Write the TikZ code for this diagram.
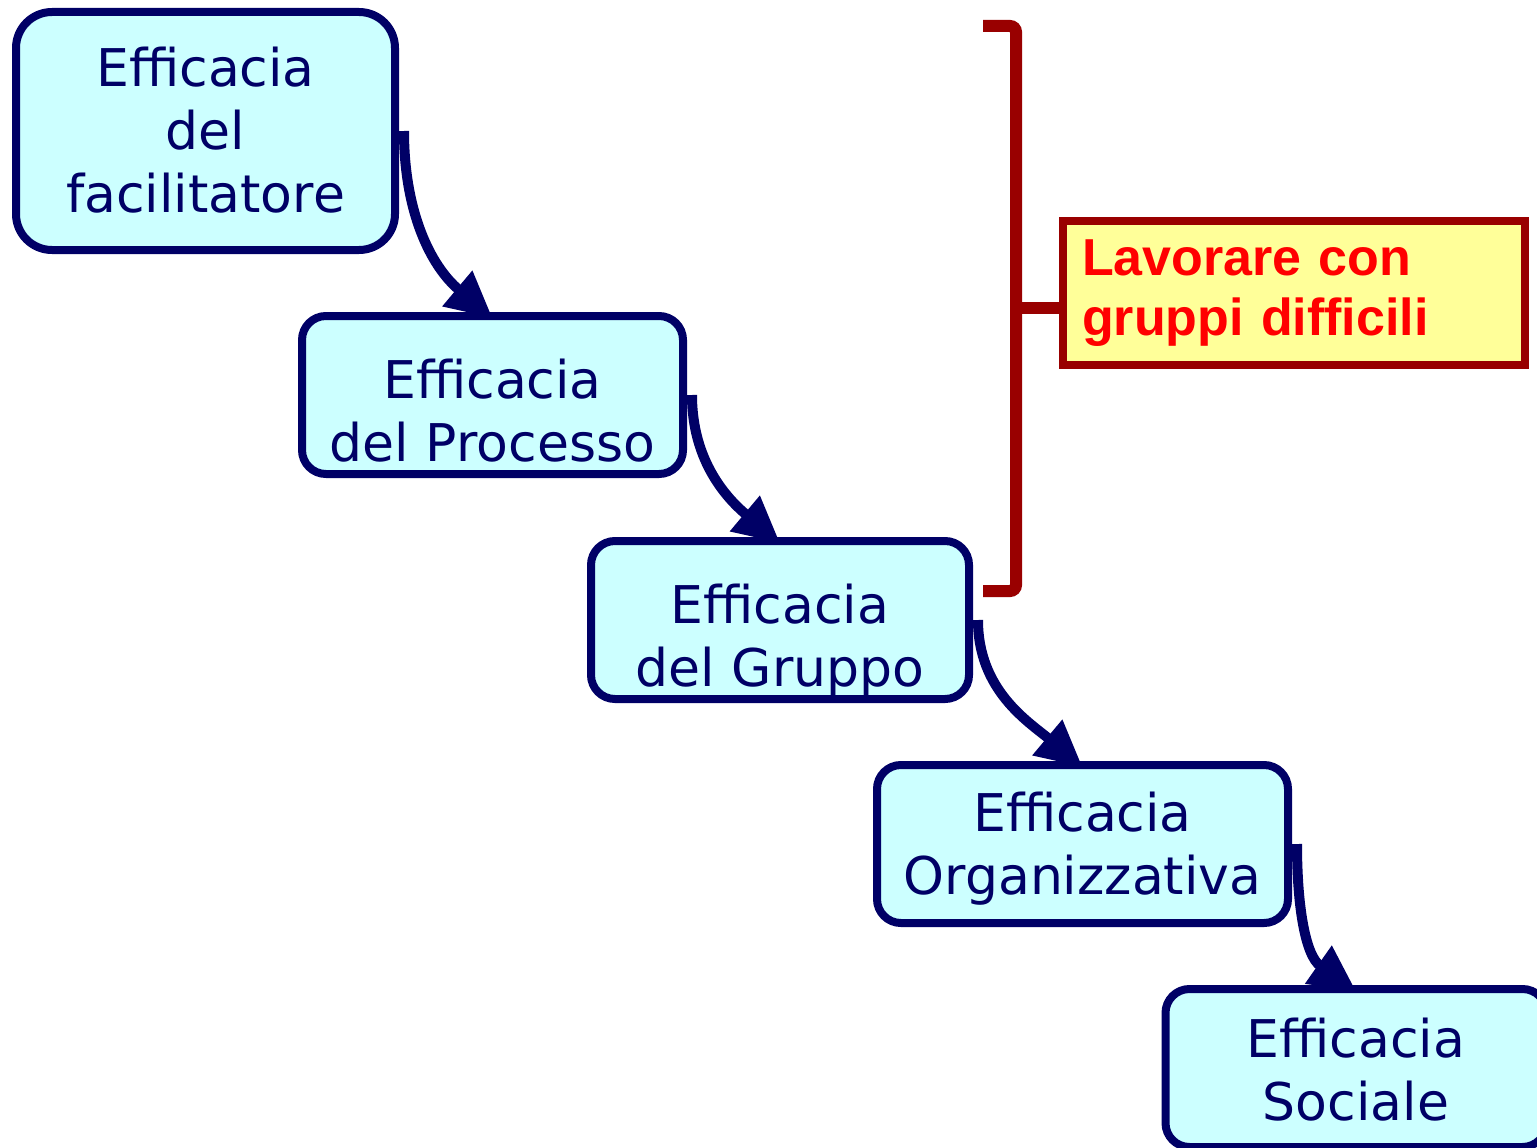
\documentclass[tikz,border=0pt]{standalone}
\usepackage{fontspec}
\setmainfont{DejaVu Sans}
\newfontfamily\notefont{Liberation Sans}
\usetikzlibrary{arrows.meta,backgrounds}
\definecolor{navy}{HTML}{000066}
\definecolor{cyanfill}{HTML}{CCFFFF}
\definecolor{darkred}{HTML}{990000}
\definecolor{notefill}{HTML}{FFFF99}
\tikzset{
  box/.style={draw=navy,fill=cyanfill,line width=8pt,rounded corners=24pt,minimum width=381pt,minimum height=158pt},
  boxtext/.style={text=navy,align=center,inner sep=0pt,font=\fontsize{52}{63}\selectfont},
  flow/.style={draw=navy,line width=10pt,-{Triangle[length=46pt,width=44pt]}},
  brace/.style={draw=darkred,line width=12pt,rounded corners=6pt},
}
\begin{document}
\begin{tikzpicture}[x=1pt,y=-1pt]
        \useasboundingbox (0,0) rectangle (1537,1148);
        \node[box,minimum width=379pt,minimum height=238pt,rounded corners=36pt] (fac) at (205.5,131) {};
        \node[boxtext] (fac text) at (205.5,130.6) {Efficacia\\del\\facilitatore};
        \node[box] (proc) at (492.5,395) {};
        \node[boxtext] (proc text) at (492.5,411) {Efficacia\\del Processo};
        \node[box,minimum width=378pt] (grp) at (780,620) {};
        \node[boxtext] (grp text) at (780,641) {Efficacia\\del Gruppo};
        \node[box,minimum width=411pt] (org) at (1082.5,844) {};
        \node[boxtext] (org text) at (1082.5,849) {Efficacia\\Organizzativa};
        \node[box] (soc) at (1356,1068) {};
        \node[boxtext] (soc text) at (1356,1070) {Efficacia\\Sociale};
        \scope[on background layer] % frecce
        \draw[flow] ([xshift=5pt]fac.east) to[out=-90,in=140] ([yshift=-6pt]proc.north);
        \draw[flow] ([xshift=5pt]proc.east) to[out=-90,in=140] ([yshift=-6pt]grp.north);
        \draw[flow] ([xshift=5pt]grp.east) to[out=-90,in=140] ([yshift=-6pt]org.north);
        \draw[flow] ([xshift=5pt]org.east) to[out=-90,in=145] ([yshift=-6pt]soc.north);
        \endscope
        \node[draw=darkred,fill=notefill,line width=8pt,text=red,align=left,text width=424pt,inner xsep=19pt,minimum height=144pt,font=\notefont\bfseries\fontsize{52}{60}\selectfont] (hard) at (1294,293) {Lavorare con\\gruppi difficili};
        \coordinate (cusp) at (1016,308);
        \draw[brace] (983,26) -| (cusp) |- (983,591);
        \draw[brace] (cusp) -- (cusp -| hard.west);
\end{tikzpicture}
\end{document}
